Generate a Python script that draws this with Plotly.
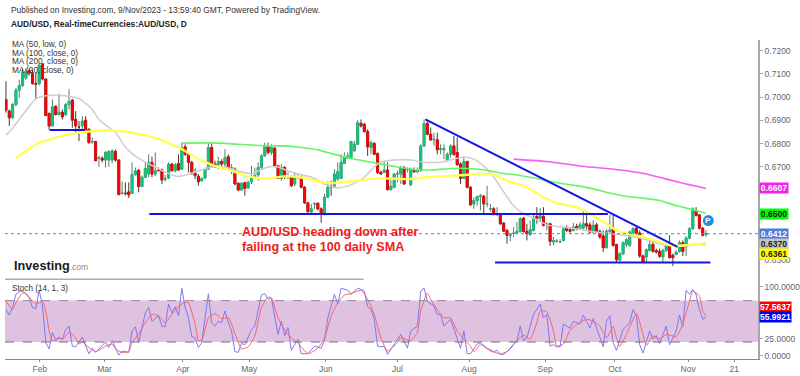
import plotly.graph_objects as go

W, H = 800, 376
def xp(px): return px / W
def yp(px): return 1 - px / H

opens = [.6990,.6940,.6911,.6968,.7030,.7050,.7082,.7114,.7104,.7058,
 .7058,.7140,.7078,.6930,.6876,.6961,.6925,.6935,.6925,.6968,
 .6987,.6904,.6871,.6876,.6901,.6862,.6807,.6809,.6736,.6737,
 .6729,.6729,.6729,.6766,.6729,.6585,.6587,.6592,.6586,.6666,
 .6685,.6615,.6655,.6669,.6719,.6669,.6686,.6687,.6647,.6652,
 .6712,.6683,.6714,.6690,.6786,.6754,.6719,.6673,.6659,.6640,
 .6652,.6690,.6783,.6712,.6709,.6723,.6712,.6743,.6686,.6690,
 .6629,.6600,.6632,.6609,.6636,.6655,.6665,.6697,.6747,.6786,
 .6762,.6780,.6704,.6650,.6697,.6657,.6659,.6626,.6654,.6655,
 .6612,.6545,.6505,.6540,.6543,.6519,.6498,.6569,.6616,.6616,
 .6647,.6650,.6714,.6736,.6740,.6769,.6797,.6887,.6883,.6852,
 .6783,.6800,.6757,.6676,.6676,.6686,.6602,.6612,.6669,.6669,
 .6695,.6690,.6623,.6687,.6679,.6683,.6790,.6887,.6840,.6816,
 .6816,.6776,.6773,.6730,.6754,.6790,.6762,.6712,.6650,.6723,
 .6612,.6540,.6555,.6573,.6573,.6540,.6519,.6519,.6497,.6493,
 .6458,.6426,.6405,.6413,.6414,.6422,.6479,.6422,.6409,.6426,
 .6486,.6479,.6486,.6452,.6455,.6376,.6379,.6376,.6383,.6436,
 .6429,.6426,.6443,.6436,.6436,.6455,.6450,.6419,.6450,.6422,
 .6402,.6352,.6422,.6433,.6365,.6298,.6326,.6366,.6362,.6412,
 .6436,.6415,.6316,.6312,.6340,.6366,.6339,.6336,.6312,.6340,
 .6359,.6319,.6323,.6336,.6373,.6355,.6393,.6433,.6512,.6493,.6436,.6408]
highs = [.7068,.6947,.6975,.7040,.7075,.7125,.7125,.7125,.7118,.7104,
 .7147,.7147,.7081,.6933,.6990,.6964,.7015,.6947,.6975,.7033,
 .6993,.6940,.6897,.6918,.6918,.6864,.6826,.6812,.6747,.6745,
 .6769,.6772,.6775,.6775,.6733,.6636,.6633,.6633,.6719,.6697,
 .6690,.6662,.6719,.6754,.6744,.6762,.6697,.6693,.6665,.6719,
 .6716,.6716,.6754,.6804,.6797,.6757,.6726,.6693,.6669,.6654,
 .6697,.6804,.6807,.6726,.6744,.6733,.6776,.6754,.6712,.6697,
 .6633,.6633,.6636,.6640,.6704,.6697,.6719,.6754,.6804,.6804,
 .6797,.6786,.6707,.6712,.6704,.6676,.6665,.6676,.6669,.6662,
 .6616,.6547,.6540,.6547,.6547,.6526,.6583,.6640,.6640,.6690,
 .6719,.6754,.6762,.6762,.6812,.6812,.6901,.6904,.6890,.6862,
 .6812,.6807,.6762,.6683,.6726,.6719,.6654,.6673,.6683,.6704,
 .6704,.6697,.6697,.6697,.6697,.6797,.6904,.6901,.6869,.6847,
 .6847,.6797,.6797,.6762,.6797,.6833,.6826,.6719,.6744,.6726,
 .6616,.6569,.6576,.6583,.6579,.6619,.6540,.6526,.6526,.6497,
 .6462,.6433,.6412,.6440,.6462,.6483,.6483,.6455,.6469,.6497,
 .6526,.6522,.6526,.6462,.6459,.6398,.6390,.6388,.6440,.6448,
 .6440,.6459,.6455,.6462,.6512,.6497,.6462,.6469,.6459,.6430,
 .6426,.6433,.6493,.6497,.6369,.6333,.6379,.6393,.6426,.6440,
 .6443,.6426,.6322,.6348,.6390,.6390,.6348,.6348,.6348,.6373,
 .6405,.6326,.6340,.6383,.6383,.6402,.6440,.6526,.6526,.6497,.6440,.6426]
lows = [.6933,.6876,.6907,.6961,.6997,.7044,.7075,.7093,.7054,.6990,
 .7050,.7072,.6918,.6858,.6873,.6921,.6921,.6904,.6918,.6947,
 .6868,.6847,.6811,.6854,.6851,.6800,.6797,.6725,.6700,.6719,
 .6697,.6700,.6715,.6722,.6580,.6580,.6576,.6566,.6584,.6662,
 .6590,.6612,.6652,.6655,.6655,.6659,.6679,.6626,.6636,.6647,
 .6679,.6676,.6683,.6687,.6747,.6676,.6665,.6647,.6619,.6636,
 .6647,.6687,.6697,.6697,.6690,.6697,.6690,.6690,.6669,.6622,
 .6595,.6597,.6576,.6605,.6626,.6650,.6640,.6690,.6744,.6754,
 .6750,.6697,.6650,.6640,.6647,.6647,.6612,.6616,.6647,.6607,
 .6540,.6502,.6502,.6519,.6512,.6459,.6490,.6566,.6576,.6612,
 .6640,.6647,.6712,.6733,.6733,.6764,.6794,.6869,.6847,.6747,
 .6754,.6750,.6669,.6665,.6673,.6597,.6597,.6607,.6633,.6626,
 .6622,.6676,.6616,.6673,.6673,.6679,.6787,.6836,.6812,.6790,
 .6754,.6754,.6733,.6722,.6740,.6747,.6704,.6626,.6647,.6607,
 .6533,.6519,.6533,.6512,.6498,.6526,.6507,.6490,.6487,.6450,
 .6419,.6369,.6379,.6398,.6412,.6416,.6416,.6383,.6402,.6422,
 .6455,.6465,.6443,.6426,.6359,.6362,.6373,.6373,.6379,.6419,
 .6416,.6422,.6426,.6430,.6430,.6430,.6412,.6412,.6416,.6390,
 .6333,.6348,.6412,.6355,.6290,.6293,.6319,.6355,.6355,.6405,
 .6405,.6308,.6288,.6290,.6336,.6330,.6326,.6308,.6288,.6333,
 .6305,.6273,.6319,.6330,.6316,.6316,.6388,.6429,.6486,.6430,.6400,.6398]
closes = [.6944,.6911,.6968,.7030,.7050,.7107,.7111,.7104,.7058,.7056,
 .7137,.7078,.6921,.6876,.6958,.6925,.6935,.6915,.6968,.6982,
 .6901,.6876,.6871,.6897,.6854,.6804,.6809,.6726,.6740,.6729,
 .6762,.6766,.6769,.6729,.6580,.6587,.6585,.6579,.6666,.6682,
 .6615,.6655,.6693,.6719,.6669,.6683,.6684,.6643,.6648,.6712,
 .6683,.6709,.6686,.6783,.6754,.6719,.6673,.6662,.6636,.6650,
 .6690,.6783,.6712,.6700,.6723,.6712,.6740,.6697,.6697,.6626,
 .6600,.6629,.6607,.6633,.6657,.6662,.6697,.6747,.6790,.6762,
 .6783,.6704,.6650,.6697,.6657,.6662,.6619,.6659,.6655,.6612,
 .6545,.6507,.6519,.6541,.6519,.6498,.6569,.6612,.6614,.6669,
 .6679,.6719,.6740,.6747,.6809,.6797,.6890,.6876,.6852,.6786,
 .6804,.6754,.6676,.6669,.6686,.6602,.6616,.6669,.6671,.6695,
 .6626,.6692,.6690,.6679,.6687,.6790,.6887,.6840,.6816,.6818,
 .6773,.6778,.6779,.6754,.6790,.6754,.6709,.6650,.6723,.6612,
 .6536,.6555,.6572,.6575,.6540,.6541,.6520,.6498,.6499,.6455,
 .6423,.6405,.6406,.6414,.6422,.6476,.6422,.6412,.6429,.6483,
 .6476,.6490,.6448,.6453,.6379,.6383,.6380,.6377,.6433,.6426,
 .6422,.6440,.6433,.6450,.6455,.6445,.6419,.6448,.6422,.6398,
 .6352,.6423,.6426,.6362,.6300,.6326,.6373,.6386,.6419,.6433,
 .6415,.6316,.6290,.6343,.6365,.6336,.6333,.6315,.6340,.6362,
 .6309,.6309,.6333,.6373,.6336,.6393,.6433,.6519,.6490,.6436,.6405,.6412]
bars = list(range(len(closes)))
assert len(opens) == len(highs) == len(lows) == len(closes) == 212

ma50_idx = [0,2,4,7,9,11,13,16,19,22,24,26,28,31,33,36,39,42,45,48,51,53,56,59,62,66,70,74,76,79,82,85,88,92,96,100,104,108,111,113,117,122,126,131,135,138,141,144,147,150,153,156,159,163,167,172,177,182,187,192,197,201,205,208,211]
ma50_val = [.6836,.6866,.6904,.6960,.6994,.7003,.7007,.7007,.7003,.6994,.6973,.6947,.6904,.6870,.6849,.6784,.6746,.6720,.6699,.6677,.6660,.6660,.6673,.6686,.6699,.6699,.6682,.6669,.6682,.6699,.6699,.6682,.6669,.6656,.6626,.6609,.6622,.6656,.6699,.6720,.6729,.6729,.6720,.6720,.6733,.6742,.6733,.6703,.6656,.6592,.6532,.6497,.6480,.6450,.6442,.6433,.6420,.6412,.6403,.6390,.6369,.6360,.6360,.6365,.6370]
ma100_idx = [3,6,10,15,20,25,32,38,46,53,58,63,68,73,77,79,84,89,93,99,105,109,114,121,127,135,143,147,151,157,162,167,172,177,181,184,187,192,197,201,205,208,211]
ma100_val = [.6737,.6769,.6804,.6826,.6843,.6852,.6857,.6847,.6819,.6776,.6733,.6704,.6683,.6659,.6650,.6650,.6659,.6654,.6640,.6630,.6640,.6647,.6650,.6647,.6655,.6662,.6669,.6665,.6640,.6612,.6569,.6540,.6526,.6490,.6455,.6426,.6412,.6398,.6376,.6359,.6362,.6369,.6361]
ma200_idx = [53,62,70,79,84,89,94,99,104,109,114,119,124,129,134,139,144,149,154,160,162,167,172,177,182,187,192,197,202,207,211]
ma200_val = [.6802,.6803,.6797,.6790,.6790,.6783,.6773,.6754,.6736,.6723,.6709,.6697,.6687,.6687,.6693,.6693,.6687,.6673,.6665,.6650,.6643,.6629,.6619,.6605,.6587,.6573,.6565,.6555,.6533,.6515,.6500]
ma20_idx = [153,157,163,169,175,181,187,193,199,205,211]
ma20_val = [.6733,.6729,.6723,.6712,.6700,.6693,.6683,.6669,.6647,.6626,.6607]

stoch_k_idx = [0,1,2,3,4,5,6,7,8,9,10,11,12,13,14,15,16,17,18,19,20,21,23,25,26,27,28,30,31,32,34,35,37,38,39,40,42,43,44,46,47,48,49,50,51,52,53,54,55,56,57,58,59,61,62,63,64,65,66,67,68,69,70,71,72,74,75,77,78,79,80,82,83,84,85,86,88,89,91,93,95,96,97,99,100,101,103,104,106,108,109,110,111,112,113,114,115,118,
 119,121,122,124,125,126,127,129,130,131,132,134,136,137,138,139,140,142,143,145,147,148,149,150,152,154,155,156,157,159,161,162,163,164,165,166,167,168,170,171,173,174,176,177,180,181,182,183,184,186,188,189,190,191,192,194,195,196,197,199,200,202,203,204,205,206,207,208,209,210,211]
stoch_k_val = [67,59,71,89,93,94,89,84,70,68,95,72,19,10,34,22,26,24,38,43,14,13,27,3,11,5,10,20,12,22,1,7,5,36,42,20,62,70,50,58,43,42,75,62,71,58,98,70,55,28,26,12,19,90,48,43,50,48,65,48,36,6,5,18,16,38,43,88,90,82,83,31,50,29,41,8,24,3,3,14,11,22,55,89,75,98,95,89,98,94,71,67,53,14,13,14,2,24,
 31,11,36,43,94,98,79,72,60,60,43,53,26,11,36,3,3,17,19,11,6,8,2,2,10,22,43,22,26,60,75,55,60,14,16,13,13,46,40,50,46,59,40,54,13,50,58,19,8,38,48,67,58,16,4,36,24,29,18,43,16,36,59,42,95,89,96,89,67,53,56]
stoch_d_idx = [0,2,3,5,6,7,9,11,12,13,14,15,16,17,19,21,22,23,25,27,28,30,32,33,35,37,38,40,42,44,46,48,50,52,54,55,57,58,59,61,63,65,67,68,70,71,73,75,77,79,80,82,84,86,88,91,94,96,98,100,102,104,107,109,111,113,115,118,
 119,121,122,124,125,127,128,130,132,134,136,138,140,141,143,146,149,151,153,156,158,160,161,163,165,166,168,170,172,175,177,179,181,183,184,185,187,190,192,193,195,197,199,202,204,206,207,209,210,211]
stoch_d_val = [79,67,77,91,91,85,75,79,65,36,21,24,27,24,34,26,17,20,12,6,8,14,17,10,5,6,19,32,48,60,58,48,60,72,77,77,46,22,22,55,61,54,55,46,19,10,13,29,70,85,84,55,38,26,19,3,11,26,58,77,88,90,95,82,60,26,7,19,
 26,23,22,34,65,91,82,67,55,55,36,24,14,6,16,7,3,6,17,30,24,48,65,64,36,14,17,37,45,53,50,43,26,42,26,14,31,61,31,15,29,24,31,28,46,79,94,87,65,57.56]
assert len(stoch_k_idx) == len(stoch_k_val) and len(stoch_d_idx) == len(stoch_d_val)

hline_short = (13.2, 23.7, 0.6858)
hline_mid = (43.2, 181.4, 0.6497)
hline_low = (147.4, 212.3, 0.6288)
trend_bars = [126.4, 202.4]
trend_vals = [0.6904, 0.6355]
last_price = 0.6412
band_low, band_high = 20, 80

month_ticks = [10.2, 29.7, 53.3, 73.3, 96.4, 118, 139.6, 162.5, 183.5, 205.6, 219.5]
month_labels = ["Feb", "Mar", "Apr", "May", "Jun", "Jul", "Aug", "Sep", "Oct", "Nov", "21"]
price_ticks = [.63, .67, .68, .69, .70, .71, .72]
stoch_ticks = [0, 25, 100]

FONT = "Liberation Sans"
fig = go.Figure()

fig.add_trace(go.Candlestick(x=bars, open=opens, high=highs, low=lows, close=closes, whiskerwidth=0,
    increasing=dict(line=dict(color="#5b7d6c", width=1), fillcolor="#12c47c"),
    decreasing=dict(line=dict(color="#4a3a3a", width=1), fillcolor="#ff0000"),
    xaxis="x", yaxis="y", hoverinfo="skip"))
fig.add_trace(go.Candlestick(x=bars, open=opens, close=closes,
    high=[max(o, c) for o, c in zip(opens, closes)],
    low=[min(o, c) for o, c in zip(opens, closes)], whiskerwidth=0,
    increasing=dict(line=dict(color="#12c47c", width=0.5), fillcolor="#12c47c"),
    decreasing=dict(line=dict(color="#ff0000", width=0.5), fillcolor="#ff0000"),
    xaxis="x", yaxis="y", hoverinfo="skip"))

for idx, val, color, width in [(ma50_idx, ma50_val, "#cdcdcd", 1.5), (ma200_idx, ma200_val, "#66f566", 1.6),
                               (ma100_idx, ma100_val, "#ffff55", 2.4), (ma20_idx, ma20_val, "#f45cf4", 1.6)]:
    fig.add_trace(go.Scatter(x=idx, y=val, mode="lines", line=dict(color=color, width=width, shape="spline", smoothing=0.6),
                             xaxis="x", yaxis="y", hoverinfo="skip"))

for x0, x1, v in [hline_short, hline_mid, hline_low]:
    fig.add_trace(go.Scatter(x=[x0, x1], y=[v, v], mode="lines", line=dict(color="#1414e6", width=2), hoverinfo="skip"))
fig.add_trace(go.Scatter(x=trend_bars, y=trend_vals, mode="lines", line=dict(color="#1414e6", width=2), hoverinfo="skip"))

fig.add_trace(go.Scatter(x=stoch_k_idx, y=stoch_k_val, mode="lines", line=dict(color="#7f78f2", width=1), xaxis="x", yaxis="y2", hoverinfo="skip"))
fig.add_trace(go.Scatter(x=stoch_d_idx, y=stoch_d_val, mode="lines", line=dict(color="#f4666e", width=1, shape="spline", smoothing=0.5), xaxis="x", yaxis="y2", hoverinfo="skip"))

shapes = [
    dict(type="rect", xref="x", yref="y2", x0=-0.3, x1=226.7, y0=band_low, y1=band_high, fillcolor="#dfc1e0", line=dict(width=0), layer="below"),
    dict(type="line", xref="x", yref="y2", x0=-0.3, x1=226.7, y0=band_low, y1=band_low, line=dict(color="#7d6a80", width=1, dash="dash")),
    dict(type="line", xref="x", yref="y2", x0=-0.3, x1=226.7, y0=band_high, y1=band_high, line=dict(color="#9a8a9c", width=1, dash="dash")),
    dict(type="line", xref="x", yref="y", x0=-0.3, x1=226.7, y0=last_price, y1=last_price, line=dict(color="#5a80e6", width=1, dash="dot")),
    dict(type="line", xref="paper", yref="paper", x0=xp(5), x1=xp(365), y0=yp(280.7), y1=yp(280.7), line=dict(color="#ababab", width=1.5)),
    dict(type="circle", xref="paper", yref="paper", x0=xp(705.5), x1=xp(716.5), y0=yp(227.2), y1=yp(216.2), fillcolor="#1d8fe8", line=dict(width=0)),
]

def text(s, x, y, size=8, color="#333333", anchor="left", weight=None):
    t = f"<b>{s}</b>" if weight else s
    return dict(text=t, x=xp(x), y=yp(y), xref="paper", yref="paper", xanchor=anchor, yanchor="middle",
                showarrow=False, font=dict(family=FONT, size=size, color=color), align="left")

def tag(s, y, bg, fg, right=789):
    return dict(text=f"<b>{s}</b>", x=xp(761.5), y=yp(y), xref="paper", yref="paper", xanchor="left", yanchor="middle",
                showarrow=False, bgcolor=bg, borderpad=0, width=right - 761, height=9.5, align="center",
                font=dict(family=FONT, size=8.5, color=fg))

annotations = [
    text("Published on Investing.com, 9/Nov/2023 - 13:59:40 GMT, Powered by TradingView.", 9, 10.5, 8.4),
    text("AUD/USD, Real-timeCurrencies:AUD/USD, D", 9, 24.5, 8.4, "#222222", weight=True),
    text("MA (50, low, 0)", 10, 45, 8.2),
    text("MA (100, close, 0)", 10, 53.5, 8.2),
    text("MA (200, close, 0)", 10, 62, 8.2),
    text("MA (20, close, 0)", 10, 70.5, 8.2),
    text("Stoch (14, 1, 3)", 10, 290.5, 8.2),
    text("AUD/USD heading down after", 240.5, 233.5, 12.6, "#ee1c1c", weight=True),
    text("failing at the 100 daily SMA", 240.5, 248.5, 12.6, "#ee1c1c", weight=True),
    text("<b>Investing</b><span style='color:#8a8a8a;font-size:8.5px'>.com</span>", 12, 267, 12.7, "#1a1a1a"),
    dict(text="<b>P</b>", x=xp(711), y=yp(221.7), xref="paper", yref="paper", showarrow=False, xanchor="center", yanchor="middle",
         font=dict(family=FONT, size=8, color="#ffffff")),
    tag("0.6607", 189, "#ee22ee", "#ffffff"),
    tag("0.6500", 214.7, "#00ff00", "#1a1a1a"),
    tag("0.6412", 235, "#4f7be0", "#ffffff"),
    tag("0.6370", 245, "#c4c4c4", "#222222"),
    tag("0.6361", 255, "#ffff00", "#222222"),
    tag("57.5637", 308.5, "#ff0000", "#ffffff", 792),
    tag("55.9921", 318.5, "#0000f0", "#ffffff", 792),
]

axis_font = dict(family=FONT, size=8.5, color="#666666")
fig.update_layout(
    width=W, height=H, autosize=False, margin=dict(l=0, r=0, t=0, b=0),
    paper_bgcolor="white", plot_bgcolor="white", showlegend=False, hovermode=False,
    boxmode="overlay", boxgap=0.12,
    shapes=shapes, annotations=annotations,
    xaxis=dict(domain=[xp(5), xp(761)], range=[-0.3, 226.7], anchor="y2", rangeslider=dict(visible=False),
               tickmode="array", tickvals=month_ticks, ticktext=month_labels, tickfont=axis_font,
               showgrid=False, zeroline=False, showline=True, linecolor="#8a8a8a", linewidth=1, ticks="outside", ticklen=2, tickcolor="#8a8a8a"),
    yaxis=dict(domain=[yp(280), yp(40)], range=[0.69 + (121 - 280) / 2335, 0.69 + (121 - 40) / 2335], anchor="x", side="right",
               tickmode="array", tickvals=price_ticks, tickformat=".4f", tickfont=axis_font,
               showgrid=False, zeroline=False, showline=True, linecolor="#a8a8a8", linewidth=1.5, ticks="outside", ticklen=3, tickcolor="#a8a8a8"),
    yaxis2=dict(domain=[yp(361), yp(280)], range=[(357.7 - 361) / 0.694, (357.7 - 280) / 0.694], anchor="x", side="right",
                tickmode="array", tickvals=stoch_ticks, tickformat=".4f", tickfont=axis_font,
                showgrid=False, zeroline=False, showline=True, linecolor="#a8a8a8", linewidth=1.5, ticks="outside", ticklen=3, tickcolor="#a8a8a8"),
)
fig.write_html("out.html", config=dict(displayModeBar=False),
               post_script="document.documentElement.style.cssText='margin:0;padding:0;width:800px;height:376px;overflow:hidden';"
                           "document.body.style.cssText='margin:0;padding:0;width:800px;height:376px;overflow:hidden';")
